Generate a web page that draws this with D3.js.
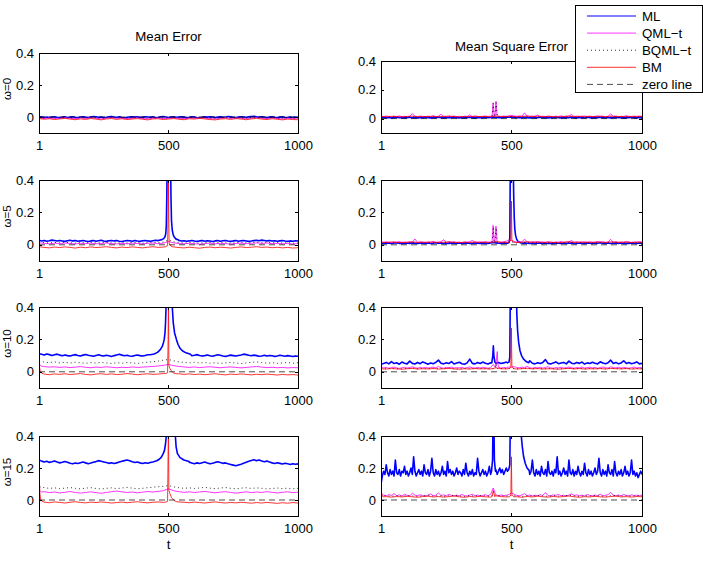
<!DOCTYPE html>
<html>
<head>
<meta charset="utf-8">
<script src="https://cdn.jsdelivr.net/npm/d3@7"></script>
<style>
  body { margin: 0; background: #fff; }
  svg text { font-family: "Liberation Sans", Arial, sans-serif; }
</style>
</head>
<body>
<svg id="chart" width="703" height="561"></svg>
<script>
// ---- labels / ticks ----
const tTicks = [1, 500, 1000];
const yTicks = [0, 0.2, 0.4];
const yDomain = [-0.1, 0.4];
const colTitles = ['Mean Error', 'Mean Square Error'];
const rowLabels = ['ω=0', 'ω=5', 'ω=10', 'ω=15'];
const legendNames = ['ML', 'QML−t', 'BQML−t', 'BM', 'zero line'];
const zeroLine = [[1, 0], [1000, 0]];

// ---- Mean Error, omega = 0 ----
const me0_ML = [-0.002,0.001,-0.003,0.000,-0.004,-0.001,0.002,-0.002,-0.005,-0.001,
  0.001,-0.003,-0.001,0.002,-0.002,-0.004,0.000,0.002,-0.001,-0.003,
  0.000,0.003,0.001,-0.002,0.000,-0.004,-0.002,0.001,0.003,0.000,
  -0.002,0.001,-0.003,-0.005,-0.002,0.000,0.002,-0.001,0.001,-0.003,
  -0.001,0.002,0.000,-0.002,0.001,-0.004,-0.002,0.001,0.003,0.000,
  -0.003,-0.001,0.001,-0.002,0.000,0.002,-0.001,-0.004,-0.002,0.001,
  0.000,-0.003,-0.005,-0.002,0.001,-0.001,0.002,0.000,-0.003,-0.001,
  0.001,-0.002,0.000,0.003,0.001,-0.002,-0.004,-0.001,0.002,0.000,
  -0.002,0.001,0.003,0.004,0.001,-0.001,0.002,0.000,-0.003,-0.001,
  0.001,-0.002,-0.004,-0.001,0.001,-0.003,-0.002,0.000,-0.003,-0.001,-0.002];
const me0_QML = [-0.006,-0.009,-0.005,-0.010,-0.007,-0.004,-0.008,-0.011,-0.006,-0.009,
  -0.005,-0.008,-0.012,-0.007,-0.004,-0.009,-0.006,-0.010,-0.008,-0.005,
  -0.009,-0.012,-0.007,-0.006,-0.010,-0.008,-0.005,-0.009,-0.011,-0.006,
  -0.008,-0.004,-0.007,-0.010,-0.012,-0.008,-0.006,-0.009,-0.005,-0.008,
  -0.011,-0.007,-0.004,-0.008,-0.010,-0.006,-0.009,-0.012,-0.008,-0.010,-0.011];
const me0_BQML = [-0.003,-0.006,-0.002,-0.005,-0.004,-0.001,-0.005,-0.007,-0.003,-0.006,
  -0.002,-0.004,-0.007,-0.003,-0.001,-0.005,-0.003,-0.006,-0.004,-0.002,
  -0.005,-0.008,-0.004,-0.003,-0.006,-0.004,-0.002,-0.005,-0.007,-0.003,
  -0.004,-0.001,-0.003,-0.006,-0.008,-0.004,-0.003,-0.005,-0.002,-0.004,
  -0.007,-0.003,-0.001,-0.004,-0.006,-0.003,-0.005,-0.008,-0.004,-0.006,-0.007];
const me0_BM = [-0.010,-0.014,-0.011,-0.016,-0.012,-0.009,-0.013,-0.017,-0.012,-0.015,
  -0.010,-0.013,-0.018,-0.012,-0.010,-0.015,-0.011,-0.016,-0.013,-0.010,
  -0.014,-0.018,-0.012,-0.011,-0.016,-0.013,-0.010,-0.014,-0.017,-0.011,
  -0.013,-0.009,-0.012,-0.016,-0.018,-0.013,-0.011,-0.015,-0.010,-0.013,
  -0.017,-0.012,-0.009,-0.013,-0.016,-0.011,-0.014,-0.018,-0.013,-0.016,-0.017];

// ---- Mean Error, omega = 5 ----
const me5_ML = [0.028,0.024,0.027,0.022,0.025,0.029,0.026,0.023,0.027,0.024,
  0.021,0.025,0.028,0.024,0.026,0.022,0.024,0.027,0.023,0.020,
  0.024,0.026,0.022,0.025,0.028,0.023,0.021,0.025,0.027,0.024,
  0.026,0.022,0.020,0.024,0.027,0.025,0.022,0.026,0.023,0.021,
  0.025,0.027,0.024,0.022,0.025,0.028,0.026,0.030,0.040,0.080,
  0.300,0.080,0.040,0.030,0.026,0.023,0.025,0.022,0.024,0.027,
  0.023,0.021,0.024,0.026,0.022,0.025,0.023,0.020,0.024,0.026,
  0.022,0.025,0.027,0.023,0.021,0.024,0.026,0.022,0.025,0.027,
  0.024,0.021,0.023,0.026,0.028,0.025,0.029,0.027,0.024,0.026,
  0.023,0.025,0.022,0.024,0.026,0.023,0.021,0.024,0.022,0.025,0.023];
const me5_MLpeak = [[465,0.028],[475,0.032],[482,0.038],[487,0.05],[490,0.07],[492,0.12],[494,0.3],[496,0.6],
  [508,0.6],[510,0.3],[512,0.15],[515,0.09],[519,0.06],[524,0.045],[530,0.035],[540,0.03]];
const me5_QML = [0.012,0.009,0.006,0.010,0.007,0.011,0.008,0.005,0.009,0.007,
  0.010,0.006,0.008,0.011,0.007,0.005,0.009,0.006,0.010,0.008,
  0.006,0.009,0.011,0.007,0.010,0.020,0.012,0.008,0.006,0.009,
  0.007,0.004,0.008,0.010,0.006,0.009,0.007,0.005,0.008,0.010,
  0.007,0.009,0.012,0.008,0.011,0.007,0.009,0.006,0.008,0.005,0.007];
const me5_BQML = [0.016,0.013,0.011,0.015,0.012,0.016,0.013,0.010,0.014,0.012,
  0.015,0.011,0.013,0.016,0.012,0.010,0.014,0.011,0.015,0.013,
  0.011,0.014,0.016,0.013,0.017,0.030,0.018,0.013,0.011,0.014,
  0.012,0.010,0.013,0.015,0.011,0.014,0.012,0.010,0.013,0.015,
  0.012,0.014,0.017,0.013,0.016,0.012,0.014,0.011,0.013,0.010,0.012];
const me5_BM = [-0.012,-0.016,-0.019,-0.014,-0.017,-0.013,-0.016,-0.020,-0.015,-0.018,
  -0.013,-0.017,-0.015,-0.012,-0.016,-0.019,-0.014,-0.017,-0.013,-0.016,
  -0.019,-0.015,-0.012,-0.016,-0.014,-0.010,-0.013,-0.017,-0.019,-0.015,
  -0.018,-0.021,-0.016,-0.014,-0.018,-0.015,-0.017,-0.020,-0.016,-0.013,
  -0.017,-0.015,-0.012,-0.016,-0.014,-0.018,-0.015,-0.019,-0.016,-0.020,-0.018];
const me5_BMpeak = [[490,-0.012],[497,-0.005],[499,0.2],[500,0.45],[501,0.2],[503,0.01],[510,-0.008],[520,-0.014]];

// ---- Mean Error, omega = 10 ----
const me10_ML = [0.112,0.108,0.104,0.110,0.106,0.101,0.105,0.109,0.103,0.099,
  0.104,0.100,0.097,0.102,0.106,0.101,0.098,0.103,0.107,0.102,
  0.099,0.096,0.101,0.105,0.100,0.097,0.102,0.099,0.095,0.100,
  0.104,0.108,0.103,0.099,0.102,0.098,0.096,0.101,0.104,0.100,
  0.097,0.101,0.105,0.102,0.108,0.112,0.120,0.140,0.200,0.400,
  0.500,0.400,0.200,0.150,0.125,0.112,0.105,0.101,0.104,0.099,
  0.102,0.106,0.101,0.097,0.100,0.104,0.099,0.096,0.101,0.105,
  0.102,0.098,0.095,0.099,0.103,0.100,0.097,0.101,0.104,0.109,
  0.106,0.102,0.099,0.103,0.100,0.096,0.098,0.102,0.097,0.101,
  0.099,0.095,0.098,0.102,0.099,0.096,0.100,0.097,0.094,0.098,0.096];
const me10_MLpeak = [[430,0.105],[445,0.11],[458,0.12],[468,0.135],[476,0.155],[481,0.18],[484,0.2],[487,0.24],
  [489,0.3],[491,0.4],[493,0.6],[512,0.6],[515,0.4],[519,0.3],[524,0.24],[531,0.2],[537,0.17],[545,0.145],
  [555,0.128],[568,0.117],[585,0.108]];
const me10_QML = [0.040,0.032,0.029,0.031,0.027,0.030,0.026,0.029,0.032,0.028,
  0.025,0.029,0.027,0.031,0.028,0.025,0.028,0.026,0.030,0.027,
  0.029,0.031,0.033,0.036,0.040,0.045,0.038,0.033,0.030,0.027,
  0.030,0.026,0.029,0.031,0.028,0.025,0.028,0.030,0.027,0.024,
  0.027,0.030,0.033,0.029,0.026,0.028,0.025,0.027,0.024,0.026,0.025];
const me10_QMLstart = [[1,0.07],[4,0.045],[10,0.035],[20,0.032]];
const me10_BQML = [0.066,0.060,0.057,0.061,0.055,0.058,0.054,0.059,0.056,0.052,
  0.057,0.054,0.058,0.055,0.051,0.056,0.053,0.057,0.055,0.052,
  0.056,0.059,0.062,0.066,0.072,0.076,0.068,0.062,0.058,0.055,
  0.059,0.054,0.057,0.053,0.056,0.052,0.055,0.058,0.054,0.051,
  0.055,0.058,0.061,0.057,0.053,0.056,0.052,0.055,0.057,0.053,0.056];
const me10_BM = [-0.008,-0.014,-0.018,-0.013,-0.016,-0.012,-0.017,-0.014,-0.011,-0.016,
  -0.019,-0.014,-0.012,-0.016,-0.013,-0.017,-0.015,-0.011,-0.014,-0.018,
  -0.015,-0.012,-0.016,-0.014,-0.011,-0.010,-0.006,-0.012,-0.016,-0.013,
  -0.017,-0.014,-0.018,-0.015,-0.012,-0.016,-0.019,-0.014,-0.017,-0.013,
  -0.016,-0.019,-0.015,-0.018,-0.014,-0.017,-0.020,-0.016,-0.019,-0.017,-0.020];
const me10_BMstart = [[1,0.1],[3,0.03],[6,0.0],[12,-0.01],[20,-0.013]];
const me10_BMpeak = [[490,-0.011],[497,-0.005],[499,0.2],[500,0.45],[501,0.3],[502,0.04],[506,0.02],
  [512,0.005],[520,-0.008],[530,-0.012]];

// ---- Mean Error, omega = 15 ----
const me15_ML = [0.250,0.243,0.238,0.242,0.235,0.239,0.244,0.237,0.232,0.236,
  0.241,0.236,0.230,0.226,0.231,0.228,0.233,0.237,0.232,0.227,
  0.231,0.236,0.240,0.246,0.242,0.238,0.234,0.229,0.233,0.228,
  0.232,0.237,0.242,0.246,0.250,0.245,0.239,0.234,0.237,0.232,
  0.228,0.233,0.230,0.235,0.238,0.245,0.260,0.290,0.350,0.500,
  0.600,0.600,0.500,0.330,0.280,0.260,0.248,0.240,0.236,0.231,
  0.227,0.232,0.228,0.233,0.237,0.231,0.226,0.230,0.235,0.239,
  0.234,0.229,0.232,0.226,0.222,0.218,0.214,0.219,0.224,0.230,
  0.236,0.242,0.247,0.251,0.246,0.250,0.244,0.239,0.243,0.237,
  0.232,0.228,0.233,0.229,0.225,0.230,0.226,0.222,0.227,0.223,0.226];
const me15_MLpeak = [[440,0.238],[455,0.245],[465,0.255],[473,0.268],[480,0.29],[485,0.31],[489,0.35],[492,0.4],
  [495,0.55],[524,0.55],[527,0.4],[530,0.33],[535,0.29],[545,0.265],[560,0.25],[580,0.24]];
const me15_QML = [0.100,0.052,0.046,0.050,0.044,0.048,0.053,0.047,0.043,0.047,
  0.051,0.046,0.042,0.047,0.052,0.056,0.051,0.047,0.050,0.045,
  0.049,0.053,0.050,0.054,0.058,0.070,0.058,0.052,0.048,0.051,
  0.047,0.050,0.054,0.049,0.045,0.049,0.052,0.047,0.043,0.047,
  0.051,0.046,0.050,0.047,0.052,0.048,0.044,0.048,0.051,0.046,0.049];
const me15_QMLstart = [[1,0.1],[4,0.06],[10,0.05],[20,0.052]];
const me15_BQML = [0.110,0.078,0.072,0.076,0.071,0.074,0.078,0.073,0.070,0.074,
  0.077,0.072,0.069,0.073,0.076,0.071,0.075,0.079,0.074,0.070,
  0.073,0.077,0.080,0.083,0.085,0.090,0.082,0.077,0.073,0.076,
  0.072,0.075,0.079,0.074,0.071,0.075,0.078,0.073,0.070,0.074,
  0.077,0.072,0.076,0.073,0.069,0.072,0.075,0.071,0.074,0.070,0.073];
const me15_BQMLstart = [[1,0.11],[4,0.085],[10,0.077],[20,0.078]];
const me15_BM = [-0.010,-0.013,-0.017,-0.012,-0.015,-0.019,-0.014,-0.011,-0.015,-0.018,
  -0.013,-0.016,-0.012,-0.015,-0.019,-0.016,-0.013,-0.017,-0.014,-0.011,
  -0.015,-0.018,-0.014,-0.012,-0.015,-0.010,-0.005,-0.010,-0.014,-0.017,
  -0.013,-0.016,-0.019,-0.015,-0.012,-0.016,-0.019,-0.015,-0.018,-0.014,
  -0.017,-0.020,-0.016,-0.019,-0.015,-0.018,-0.021,-0.017,-0.020,-0.016,-0.019];
const me15_BMstart = [[1,0.24],[2,0.15],[4,0.05],[7,0.005],[12,-0.008],[20,-0.012]];
const me15_BMpeak = [[490,-0.013],[497,-0.008],[499,0.3],[500,0.45],[501,0.3],[502,0.06],[506,0.04],
  [512,0.015],[520,0.0],[530,-0.01],[545,-0.013]];

// ---- Mean Square Error, omega = 0 ----
const mse0_ML = [0.009,0.007,0.006,0.008,0.005,0.007,0.009,0.006,0.008,0.005,
  0.007,0.010,0.006,0.008,0.005,0.007,0.006,0.009,0.007,0.005,
  0.008,0.006,0.010,0.007,0.005,0.008,0.006,0.007,0.009,0.006,
  0.005,0.008,0.007,0.006,0.009,0.007,0.005,0.008,0.006,0.007,
  0.009,0.006,0.008,0.011,0.009,0.007,0.006,0.008,0.010,0.009,
  0.012,0.009,0.007,0.008,0.006,0.009,0.007,0.005,0.008,0.006,
  0.007,0.009,0.006,0.008,0.005,0.007,0.006,0.009,0.007,0.005,
  0.008,0.006,0.007,0.009,0.006,0.005,0.008,0.007,0.006,0.009,
  0.007,0.005,0.008,0.006,0.010,0.007,0.006,0.008,0.005,0.007,
  0.009,0.006,0.008,0.005,0.007,0.006,0.009,0.007,0.005,0.008,0.006];
const mse0_QML = [0.016,0.014,0.018,0.015,0.013,0.017,0.015,0.019,0.014,0.016,
  0.013,0.017,0.035,0.016,0.014,0.018,0.015,0.013,0.017,0.015,
  0.019,0.014,0.016,0.030,0.015,0.013,0.017,0.015,0.018,0.014,
  0.016,0.013,0.017,0.015,0.026,0.014,0.018,0.015,0.013,0.016,
  0.018,0.015,0.017,0.020,0.020,0.016,0.014,0.018,0.016,0.019,
  0.021,0.018,0.016,0.019,0.017,0.040,0.017,0.015,0.018,0.016,
  0.025,0.015,0.017,0.014,0.018,0.016,0.013,0.017,0.015,0.019,
  0.014,0.016,0.018,0.028,0.015,0.017,0.014,0.016,0.018,0.015,
  0.017,0.014,0.016,0.019,0.015,0.017,0.014,0.016,0.032,0.015,
  0.018,0.014,0.016,0.015,0.019,0.016,0.014,0.017,0.015,0.018,0.016];
const mse0_QMLspikes = [[426,0.016],[430,0.11],[434,0.02],[437,0.018],[441,0.12],[445,0.02]];
const mse0_BQML = [0.012,0.010,0.013,0.011,0.009,0.012,0.014,0.010,0.012,0.011,
  0.013,0.010,0.012,0.014,0.011,0.009,0.012,0.010,0.013,0.011,
  0.012,0.010,0.014,0.012,0.011,0.013,0.010,0.012,0.015,0.011,
  0.013,0.010,0.012,0.011,0.009,0.012,0.014,0.011,0.013,0.010,
  0.012,0.011,0.013,0.010,0.014,0.012,0.011,0.013,0.010,0.012,0.011];
const mse0_BQMLspikes = [[426,0.012],[431,0.105],[434,0.014],[437,0.013],[442,0.11],[446,0.013]];
const mse0_BM = [0.015,0.013,0.016,0.014,0.012,0.015,0.017,0.013,0.015,0.014,
  0.016,0.013,0.015,0.017,0.014,0.012,0.015,0.013,0.016,0.014,
  0.015,0.013,0.017,0.015,0.014,0.016,0.013,0.015,0.018,0.014,
  0.016,0.013,0.015,0.014,0.012,0.015,0.017,0.014,0.016,0.013,
  0.015,0.014,0.016,0.013,0.017,0.015,0.014,0.016,0.013,0.015,0.014];

// ---- Mean Square Error, omega = 5 ----
const mse5_ML = [0.011,0.009,0.012,0.010,0.008,0.011,0.013,0.009,0.010,0.008,
  0.011,0.009,0.012,0.010,0.008,0.010,0.012,0.009,0.011,0.008,
  0.010,0.013,0.009,0.011,0.008,0.010,0.009,0.012,0.010,0.008,
  0.011,0.009,0.010,0.012,0.009,0.008,0.011,0.010,0.009,0.012,
  0.010,0.008,0.011,0.014,0.012,0.010,0.009,0.011,0.010,0.012,
  0.015,0.012,0.010,0.011,0.009,0.012,0.010,0.008,0.011,0.009,
  0.010,0.012,0.009,0.011,0.008,0.010,0.009,0.012,0.010,0.008,
  0.011,0.009,0.010,0.012,0.009,0.008,0.011,0.010,0.009,0.012,
  0.010,0.008,0.011,0.009,0.013,0.010,0.009,0.011,0.008,0.010,
  0.012,0.009,0.011,0.008,0.010,0.009,0.012,0.010,0.008,0.011,0.009];
const mse5_MLpeak = [[485,0.01],[491,0.014],[494,0.04],[496,0.5],[507,0.5],[509,0.3],[511,0.17],[513,0.1],
  [516,0.06],[520,0.035],[526,0.02],[535,0.013],[545,0.01]];
const mse5_QML = [0.018,0.015,0.019,0.016,0.014,0.018,0.016,0.020,0.015,0.017,
  0.014,0.018,0.016,0.036,0.015,0.019,0.016,0.014,0.018,0.016,
  0.020,0.015,0.017,0.019,0.032,0.014,0.018,0.016,0.019,0.015,
  0.017,0.014,0.018,0.016,0.019,0.027,0.017,0.015,0.018,0.016,
  0.019,0.016,0.018,0.021,0.021,0.017,0.015,0.019,0.022,0.030,
  0.026,0.020,0.017,0.019,0.018,0.035,0.018,0.016,0.019,0.017,
  0.020,0.016,0.018,0.015,0.019,0.017,0.014,0.018,0.016,0.020,
  0.015,0.017,0.019,0.026,0.016,0.018,0.015,0.017,0.019,0.016,
  0.018,0.015,0.017,0.020,0.016,0.018,0.015,0.017,0.034,0.016,
  0.019,0.015,0.017,0.016,0.020,0.017,0.015,0.018,0.016,0.019,0.017];
const mse5_QMLspikes = [[426,0.017],[430,0.12],[434,0.02],[437,0.019],[441,0.115],[445,0.02]];
const mse5_BQML = [0.013,0.011,0.014,0.012,0.010,0.013,0.015,0.011,0.013,0.012,
  0.014,0.011,0.013,0.015,0.012,0.010,0.013,0.011,0.014,0.012,
  0.013,0.011,0.015,0.013,0.012,0.018,0.011,0.013,0.016,0.012,
  0.014,0.011,0.013,0.012,0.010,0.013,0.015,0.012,0.014,0.011,
  0.013,0.012,0.014,0.011,0.015,0.013,0.012,0.014,0.011,0.013,0.012];
const mse5_BQMLspikes = [[426,0.013],[431,0.11],[434,0.015],[437,0.014],[442,0.105],[446,0.014]];
const mse5_BM = [0.016,0.014,0.017,0.015,0.013,0.016,0.018,0.014,0.016,0.015,
  0.017,0.014,0.016,0.018,0.015,0.013,0.016,0.014,0.017,0.015,
  0.016,0.014,0.019,0.016,0.015,0.020,0.014,0.016,0.019,0.015,
  0.017,0.014,0.016,0.015,0.013,0.016,0.018,0.015,0.017,0.014,
  0.016,0.015,0.017,0.014,0.018,0.016,0.015,0.017,0.014,0.016,0.015];
const mse5_BMpeak = [[492,0.016],[498,0.03],[500,0.27],[502,0.03],[508,0.016]];

// ---- Mean Square Error, omega = 10 ----
const mse10_ML = [0.045,0.052,0.058,0.049,0.063,0.051,0.056,0.047,0.060,0.053,
  0.049,0.066,0.052,0.048,0.057,0.050,0.061,0.054,0.047,0.055,
  0.050,0.058,0.072,0.053,0.049,0.056,0.051,0.063,0.048,0.054,
  0.059,0.050,0.047,0.055,0.078,0.052,0.049,0.057,0.051,0.060,
  0.053,0.048,0.056,0.060,0.052,0.058,0.051,0.055,0.060,0.080,
  0.300,0.300,0.200,0.080,0.060,0.055,0.050,0.068,0.053,0.049,
  0.056,0.051,0.058,0.075,0.052,0.048,0.055,0.061,0.050,0.054,
  0.058,0.049,0.066,0.053,0.050,0.057,0.052,0.060,0.048,0.055,
  0.051,0.059,0.053,0.049,0.062,0.054,0.050,0.056,0.072,0.052,
  0.058,0.049,0.055,0.068,0.051,0.057,0.050,0.054,0.061,0.049,0.052];
const mse10_MLspike = [[425,0.055],[429,0.1],[431,0.16],[433,0.1],[437,0.06]];
const mse10_MLpeak = [[485,0.055],[491,0.06],[494,0.09],[496,0.5],[519,0.5],[521,0.35],[524,0.25],[528,0.18],
  [533,0.13],[539,0.1],[546,0.08],[555,0.065],[566,0.056]];
const mse10_QML = [0.030,0.024,0.027,0.022,0.026,0.029,0.024,0.021,0.025,0.028,
  0.023,0.026,0.031,0.025,0.022,0.027,0.024,0.028,0.023,0.026,
  0.029,0.024,0.033,0.026,0.022,0.027,0.025,0.029,0.023,0.026,
  0.024,0.028,0.022,0.026,0.030,0.025,0.023,0.027,0.024,0.028,
  0.025,0.022,0.026,0.045,0.028,0.026,0.023,0.027,0.025,0.030,
  0.028,0.032,0.027,0.024,0.029,0.026,0.034,0.025,0.022,0.027,
  0.024,0.028,0.023,0.027,0.031,0.025,0.022,0.026,0.024,0.028,
  0.023,0.026,0.030,0.025,0.022,0.027,0.024,0.029,0.023,0.026,
  0.028,0.024,0.027,0.022,0.026,0.030,0.025,0.023,0.031,0.026,
  0.024,0.028,0.023,0.027,0.025,0.022,0.026,0.029,0.024,0.027,0.025];
const mse10_QMLspike = [[440,0.026],[443,0.08],[446,0.125],[448,0.05],[452,0.027]];
const mse10_BQML = [0.021,0.018,0.022,0.019,0.017,0.021,0.023,0.019,0.020,0.018,
  0.022,0.019,0.021,0.023,0.018,0.017,0.020,0.019,0.022,0.020,
  0.021,0.018,0.035,0.020,0.019,0.022,0.018,0.020,0.023,0.019,
  0.021,0.018,0.020,0.019,0.017,0.020,0.022,0.019,0.021,0.018,
  0.020,0.019,0.021,0.018,0.022,0.020,0.019,0.021,0.018,0.020,0.019];
const mse10_BQMLspike = [[436,0.02],[441,0.05],[446,0.02]];
const mse10_BM = [0.019,0.017,0.020,0.018,0.016,0.019,0.021,0.017,0.019,0.018,
  0.020,0.017,0.019,0.021,0.018,0.016,0.019,0.017,0.020,0.018,
  0.019,0.017,0.025,0.019,0.018,0.020,0.017,0.019,0.022,0.018,
  0.020,0.017,0.019,0.018,0.016,0.019,0.021,0.018,0.020,0.017,
  0.019,0.018,0.020,0.017,0.021,0.019,0.018,0.020,0.017,0.019,0.018];
const mse10_BMpeak = [[492,0.02],[498,0.03],[500,0.27],[502,0.035],[508,0.02]];

// ---- Mean Square Error, omega = 15 ----
const mse15_ML = [0.10,0.15,0.18,0.16,0.22,0.17,0.15,0.19,0.16,0.18,0.15,0.25,0.17,0.16,0.19,0.15,0.18,0.17,0.21,0.16,
  0.18,0.15,0.17,0.20,0.16,0.27,0.18,0.15,0.17,0.19,0.16,0.18,0.15,0.22,0.17,0.16,0.19,0.15,0.18,0.26,
  0.17,0.15,0.19,0.16,0.18,0.15,0.17,0.21,0.16,0.18,0.15,0.24,0.17,0.19,0.16,0.18,0.15,0.17,0.20,0.16,
  0.18,0.17,0.15,0.19,0.16,0.23,0.17,0.15,0.18,0.16,0.19,0.15,0.17,0.16,0.26,0.18,0.15,0.17,0.19,0.16,
  0.18,0.15,0.17,0.21,0.16,0.18,0.17,0.15,0.19,0.16,0.18,0.20,0.17,0.19,0.16,0.18,0.20,0.19,0.21,0.24,
  0.50,0.50,0.50,0.50,0.50,0.50,0.50,0.40,0.30,0.25,0.22,0.20,0.18,0.19,0.16,0.18,0.25,0.17,0.15,0.19,
  0.16,0.18,0.15,0.21,0.17,0.16,0.19,0.15,0.24,0.17,0.16,0.18,0.15,0.19,0.17,0.27,0.16,0.18,0.15,0.17,
  0.20,0.16,0.18,0.15,0.25,0.17,0.16,0.19,0.15,0.18,0.16,0.21,0.17,0.15,0.18,0.16,0.23,0.17,0.15,0.19,
  0.16,0.18,0.15,0.17,0.20,0.16,0.18,0.26,0.17,0.15,0.19,0.16,0.18,0.15,0.22,0.17,0.16,0.19,0.15,0.24,
  0.17,0.15,0.18,0.16,0.19,0.15,0.17,0.21,0.16,0.18,0.15,0.17,0.25,0.16,0.18,0.15,0.17,0.14,0.16,0.18,
  0.16];
const mse15_MLspike = [[424,0.18],[428,0.25],[430,0.5],[433,0.5],[435,0.25],[439,0.18]];
const mse15_MLpeak = [[485,0.18],[490,0.19],[494,0.22],[496,0.5],[534,0.5],[538,0.4],[542,0.33],[547,0.27],
  [553,0.23],[560,0.2],[568,0.185]];
const mse15_QML = [0.045,0.030,0.026,0.034,0.028,0.040,0.027,0.032,0.025,0.036,
  0.029,0.026,0.042,0.030,0.027,0.033,0.028,0.025,0.031,0.038,
  0.027,0.030,0.045,0.028,0.032,0.026,0.035,0.029,0.026,0.031,
  0.027,0.034,0.028,0.025,0.030,0.036,0.027,0.031,0.026,0.029,
  0.033,0.027,0.035,0.075,0.032,0.028,0.031,0.027,0.030,0.034,
  0.045,0.036,0.029,0.026,0.032,0.040,0.028,0.031,0.026,0.030,
  0.027,0.033,0.029,0.046,0.028,0.026,0.032,0.029,0.035,0.027,
  0.030,0.026,0.031,0.038,0.028,0.032,0.027,0.030,0.026,0.034,
  0.029,0.027,0.031,0.028,0.036,0.026,0.030,0.033,0.048,0.029,
  0.026,0.031,0.027,0.034,0.029,0.026,0.032,0.028,0.030,0.027,0.031];
const mse15_BQML = [0.040,0.026,0.023,0.027,0.024,0.028,0.025,0.022,0.026,0.029,
  0.024,0.027,0.023,0.026,0.030,0.025,0.022,0.027,0.024,0.028,
  0.025,0.023,0.030,0.026,0.024,0.028,0.025,0.022,0.027,0.024,
  0.029,0.025,0.023,0.027,0.024,0.026,0.030,0.025,0.022,0.026,
  0.024,0.028,0.025,0.023,0.027,0.029,0.024,0.026,0.023,0.027,0.025];
const mse15_BQMLspike = [[425,0.026],[431,0.05],[437,0.026]];
const mse15_BM = [0.070,0.021,0.018,0.022,0.019,0.023,0.020,0.017,0.021,0.024,
  0.019,0.022,0.018,0.021,0.025,0.020,0.017,0.022,0.019,0.023,
  0.020,0.018,0.026,0.021,0.019,0.023,0.020,0.017,0.022,0.019,
  0.024,0.020,0.018,0.022,0.019,0.021,0.025,0.020,0.017,0.021,
  0.019,0.023,0.020,0.018,0.022,0.024,0.019,0.021,0.018,0.022,0.020];
const mse15_BMstart = [[1,0.075],[3,0.04],[6,0.024],[12,0.02]];
const mse15_BMspike = [[426,0.021],[431,0.06],[436,0.021]];
const mse15_BMpeak = [[492,0.02],[498,0.03],[500,0.27],[502,0.035],[508,0.021]];

// ---- panels: [base values, edited segments] per series ----
const panels = [
  { r: 0, c: 0, ML: [me0_ML], QML: [me0_QML], BQML: [me0_BQML], BM: [me0_BM] },
  { r: 0, c: 1, ML: [mse0_ML], QML: [mse0_QML, [mse0_QMLspikes]], BQML: [mse0_BQML, [mse0_BQMLspikes]], BM: [mse0_BM] },
  { r: 1, c: 0, ML: [me5_ML, [me5_MLpeak]], QML: [me5_QML], BQML: [me5_BQML], BM: [me5_BM, [me5_BMpeak]] },
  { r: 1, c: 1, ML: [mse5_ML, [mse5_MLpeak]], QML: [mse5_QML, [mse5_QMLspikes]], BQML: [mse5_BQML, [mse5_BQMLspikes]], BM: [mse5_BM, [mse5_BMpeak]] },
  { r: 2, c: 0, ML: [me10_ML, [me10_MLpeak]], QML: [me10_QML, [me10_QMLstart]], BQML: [me10_BQML], BM: [me10_BM, [me10_BMstart, me10_BMpeak]] },
  { r: 2, c: 1, ML: [mse10_ML, [mse10_MLspike, mse10_MLpeak]], QML: [mse10_QML, [mse10_QMLspike]], BQML: [mse10_BQML, [mse10_BQMLspike]], BM: [mse10_BM, [mse10_BMpeak]] },
  { r: 3, c: 0, ML: [me15_ML, [me15_MLpeak]], QML: [me15_QML, [me15_QMLstart]], BQML: [me15_BQML, [me15_BQMLstart]], BM: [me15_BM, [me15_BMstart, me15_BMpeak]] },
  { r: 3, c: 1, ML: [mse15_ML, [mse15_MLspike, mse15_MLpeak]], QML: [mse15_QML], BQML: [mse15_BQML, [mse15_BQMLspike]], BM: [mse15_BM, [mse15_BMstart, mse15_BMspike, mse15_BMpeak]] }
];

const styles = {
  ML:   { color: '#0000ff', width: 1.6, dash: null },
  QML:  { color: '#ff00ff', width: 0.8, dash: null },
  BQML: { color: '#000000', width: 0.8, dash: '1,3' },
  BM:   { color: '#ff0000', width: 0.8, dash: null },
  zero: { color: '#000000', width: 0.7, dash: '6,4' }
};
const seriesKeys = ['ML', 'QML', 'BQML', 'BM'];

// base values are evenly spread over t = 1..1000; edited segments replace that stretch
function toPoints(base, edits) {
  const step = 999 / (base.length - 1);
  let pts = base.map((v, i) => [1 + i * step, v]);
  (edits || []).forEach(seg => {
    const lo = seg[0][0], hi = seg[seg.length - 1][0];
    pts = pts.filter(p => p[0] < lo || p[0] > hi).concat(seg);
  });
  return pts.sort((a, b) => a[0] - b[0]);
}

const colX = [{ x: 39, w: 259 }, { x: 381, w: 261 }];
const rowY = [{ y: 53, h: 80 }, { y: 180, h: 81 }, { y: 307, h: 81 }, { y: 436, h: 80 }];

const svg = d3.select('#chart');
const defs = svg.append('defs');

panels.forEach((p, k) => {
  let top = rowY[p.r].y, h = rowY[p.r].h;
  if (p.r === 0 && p.c === 1) { top = 61; h = 72; }
  const left = colX[p.c].x, w = colX[p.c].w;

  const x = d3.scaleLinear().domain([1, 1000]).range([left, left + w]);
  const y = d3.scaleLinear().domain(yDomain).range([top + h, top]);
  const line = d3.line().x(d => x(d[0])).y(d => y(d[1]));

  defs.append('clipPath').attr('id', 'clip' + k)
    .append('rect').attr('x', left).attr('y', top).attr('width', w).attr('height', h);

  const g = svg.append('g').attr('clip-path', `url(#clip${k})`);
  seriesKeys.forEach(key => {
    const st = styles[key];
    g.append('path')
      .datum(toPoints(p[key][0], p[key][1]))
      .attr('d', line)
      .attr('fill', 'none')
      .attr('stroke', st.color)
      .attr('stroke-width', st.width)
      .attr('stroke-dasharray', st.dash)
      .attr('stroke-linejoin', 'round');
  });
  g.append('path')
    .datum(zeroLine)
    .attr('d', line)
    .attr('fill', 'none')
    .attr('stroke', styles.zero.color)
    .attr('stroke-width', styles.zero.width)
    .attr('stroke-dasharray', styles.zero.dash);

  // axes with inward ticks, mirrored on top/right
  const axB = svg.append('g').attr('transform', `translate(0,${top + h})`)
    .call(d3.axisBottom(x).tickValues(tTicks).tickSize(-3).tickSizeOuter(0).tickPadding(8)
      .tickFormat(d3.format('d')));
  const axT = svg.append('g').attr('transform', `translate(0,${top})`)
    .call(d3.axisTop(x).tickValues(tTicks).tickSize(-3).tickSizeOuter(0).tickFormat(''));
  const axL = svg.append('g').attr('transform', `translate(${left},0)`)
    .call(d3.axisLeft(y).tickValues(yTicks).tickSize(-3).tickSizeOuter(0).tickPadding(5)
      .tickFormat(d => d === 0 ? '0' : d3.format('.1f')(d)));
  const axR = svg.append('g').attr('transform', `translate(${left + w},0)`)
    .call(d3.axisRight(y).tickValues(yTicks).tickSize(-3).tickSizeOuter(0).tickFormat(''));
  [axB, axT, axL, axR].forEach(a => {
    a.select('.domain').remove();
    a.selectAll('line').attr('shape-rendering', 'crispEdges');
    a.selectAll('text').attr('font-size', 13).attr('font-family', '"Liberation Sans", Arial, sans-serif').attr('fill', '#000');
  });

  svg.append('rect')
    .attr('x', left).attr('y', top).attr('width', w).attr('height', h)
    .attr('fill', 'none').attr('stroke', '#000').attr('stroke-width', 1)
    .attr('shape-rendering', 'crispEdges');

  if (p.r === 0) {
    svg.append('text')
      .attr('x', left + w / 2).attr('y', top - (p.c === 0 ? 12 : 10))
      .attr('text-anchor', 'middle').attr('font-size', 13.3)
      .text(colTitles[p.c]);
  }
  if (p.c === 0) {
    svg.append('text')
      .attr('transform', `translate(11,${top + h / 2 - 4}) rotate(-90)`)
      .attr('text-anchor', 'middle').attr('font-size', 11.5)
      .text(rowLabels[p.r]);
  }
  if (p.r === 3) {
    svg.append('text')
      .attr('x', left + w / 2).attr('y', top + h + 33)
      .attr('text-anchor', 'middle').attr('font-size', 13.3)
      .text('t');
  }
});

// legend
const lg = svg.append('g');
lg.append('rect')
  .attr('x', 575.5).attr('y', 5.5).attr('width', 127).attr('height', 87)
  .attr('fill', '#fff').attr('stroke', '#000').attr('stroke-width', 1);
const legendKeys = ['ML', 'QML', 'BQML', 'BM', 'zero'];
legendKeys.forEach((key, i) => {
  const st = styles[key];
  const yy = 16 + i * 17.1;
  lg.append('line')
    .attr('x1', 587).attr('x2', 636).attr('y1', yy).attr('y2', yy)
    .attr('stroke', st.color).attr('stroke-width', key === 'ML' ? 1 : st.width)
    .attr('stroke-dasharray', st.dash);
  lg.append('text')
    .attr('x', 642).attr('y', yy).attr('dy', '0.35em')
    .attr('font-size', 13.3)
    .text(legendNames[i]);
});
</script>
</body>
</html>
